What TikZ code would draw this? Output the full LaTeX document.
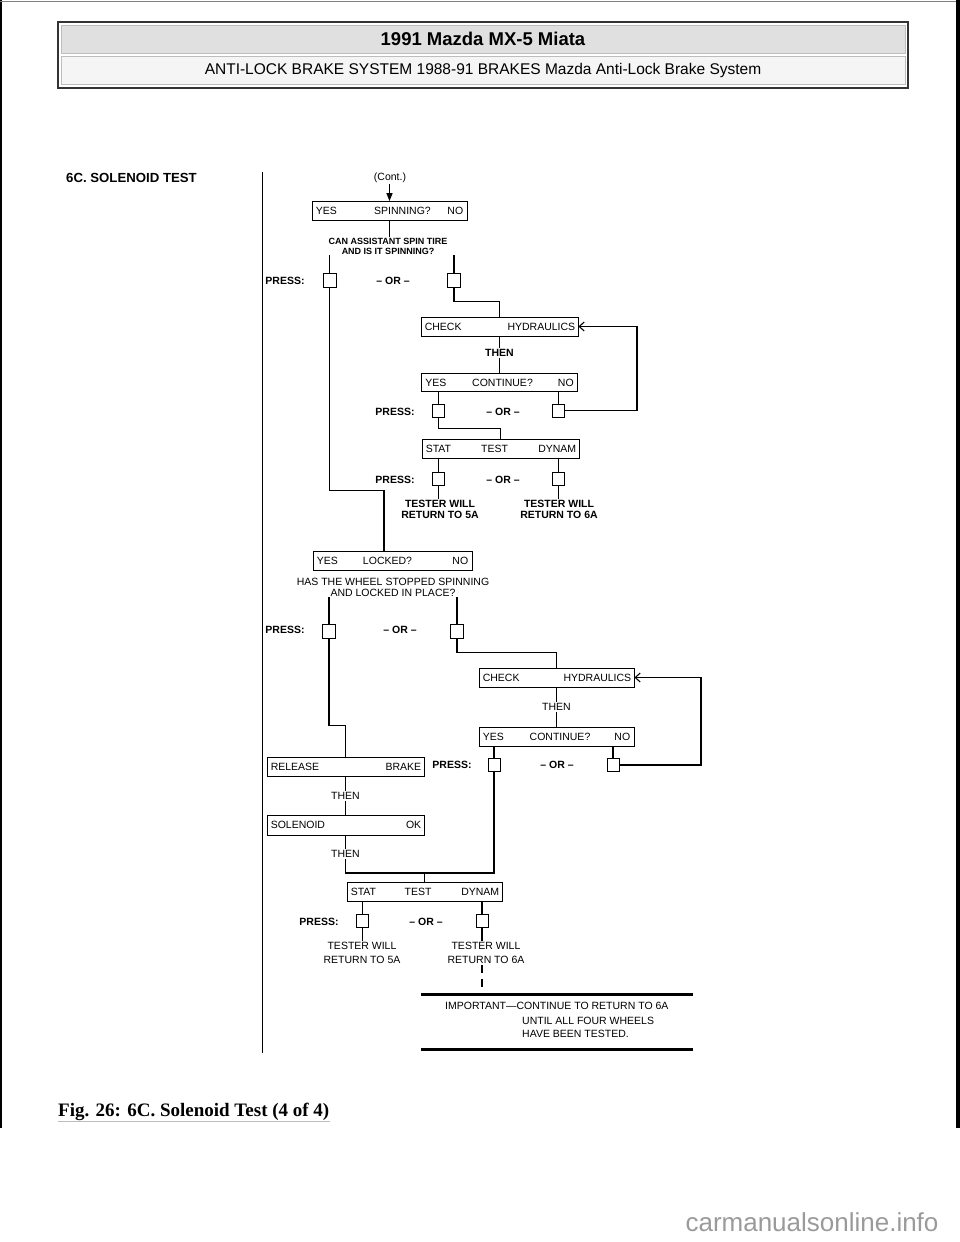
\documentclass[tikz,border=0pt]{standalone}
\usepackage{fontspec}
\setmainfont{Liberation Sans}
\newfontfamily\seriffont{Liberation Serif}
\usetikzlibrary{arrows.meta}

\definecolor{hdrgrey}{HTML}{E0E0E0}
\definecolor{subgrey}{HTML}{F5F5F5}
\definecolor{rimgrey}{HTML}{BDBDBD}
\definecolor{markgrey}{HTML}{9A9A9A}

\tikzset{
  qbox/.style={draw, line width=0.8pt, minimum height=19pt, inner sep=0pt},
  btn/.style={draw, line width=0.8pt, minimum width=12pt, minimum height=13pt, inner sep=0pt},
  lbl/.style={font=\fontsize{10.5}{11}\selectfont, inner sep=1pt},
  blbl/.style={font=\bfseries\fontsize{10.5}{11}\selectfont, inner sep=1pt},
  conn/.style={line width=1.1pt},
  back/.style={conn, -{Straight Barb[length=5pt,width=9pt,line width=1.1pt]}},
}

\begin{document}
\begin{tikzpicture}[x=1pt,y=-1pt]
  \useasboundingbox (0,0) rectangle (960,1242);

  % page frame
  \draw[line width=1.5pt] (1,0) -- (1,1128);
  \draw[line width=0.8pt, gray] (0,1) -- (960,1);
  \draw[line width=4pt] (958,0) -- (958,1128);

  % header
  \draw[line width=1.5pt, black!80] (58,22) rectangle (908,88);
  \draw[fill=hdrgrey, draw=rimgrey] (61,25) rectangle (905,53);
  \draw[fill=subgrey, draw=rimgrey] (61,56) rectangle (905,84);
  \node[font=\bfseries\fontsize{18.5}{20}\selectfont] (hdr) at (483,39) {1991 Mazda MX-5 Miata};
  \node[font=\fontsize{15.5}{17}\selectfont] (subhdr) at (483,70) {ANTI-LOCK BRAKE SYSTEM 1988-91 BRAKES Mazda Anti-Lock Brake System};

  % title and left rule
  \node[font=\bfseries\fontsize{13.2}{15}\selectfont, anchor=west, inner sep=0pt] (title) at (66,178) {6C. SOLENOID TEST};
  \draw[line width=0.8pt] (262,172) -- (262,1053);

  % spinning test
  \node[lbl] (cont) at (390,178) {(Cont.)};
  \node[qbox, minimum width=155pt] (spin) at (389.5,211) {};
  \node[lbl, anchor=west] (spinY) at ([xshift=3pt]spin.west) {YES};
  \node[lbl] (spinQ) at ([xshift=13pt]spin.center) {SPINNING?};
  \node[lbl, anchor=east] (spinN) at ([xshift=-3pt]spin.east) {NO};
  \draw[line width=1.4pt, -{Triangle[length=8pt,width=6pt]}] (cont.south -| spin.north) -- (spin.north);
  \node[font=\bfseries\fontsize{9}{10}\selectfont, align=center, inner sep=1pt] (q1) at (388,246) {CAN ASSISTANT SPIN TIRE\\AND IS IT SPINNING?};
  \draw[conn] (spin.south) -- (spin.south |- q1.north);

  \node[blbl] (press1) at (285,281) {PRESS:};
  \node[btn, minimum width=13pt, minimum height=14pt] (b1) at (329.5,280) {};
  \node[blbl] (or1) at (393,281) {-- OR --};
  \node[btn, minimum width=13pt, minimum height=14pt] (b2) at (454,280) {};
  \draw[conn] (b1.north |- q1.south) -- (b1.north);
  \draw[conn] (b2.north |- q1.south) -- (b2.north);

  % first hydraulics loop
  \node[qbox, minimum width=157pt] (chk1) at (499.5,326.5) {};
  \node[lbl, anchor=west] (chk1L) at ([xshift=3pt]chk1.west) {CHECK};
  \node[lbl, anchor=east] (chk1R) at ([xshift=-2pt]chk1.east) {HYDRAULICS};
  \draw[conn] (b2.south) -- ++(0,14) -| (chk1.north);
  \node[blbl] (then1) at (499.5,353) {THEN};
  \draw[conn] (chk1.south) -- (chk1.south |- then1.north);

  \node[qbox, minimum width=156pt, minimum height=18pt] (cont1) at (499.5,382.5) {};
  \node[lbl, anchor=west] (cont1Y) at ([xshift=3pt]cont1.west) {YES};
  \node[lbl] (cont1Q) at ([xshift=3pt]cont1.center) {CONTINUE?};
  \node[lbl, anchor=east] (cont1N) at ([xshift=-3pt]cont1.east) {NO};
  \draw[conn] (then1.south) -- (then1.south |- cont1.north);

  \node[blbl] (press2) at (395,412) {PRESS:};
  \node[btn] (b3) at (438.5,410.5) {};
  \node[blbl] (or2) at (503,412) {-- OR --};
  \node[btn] (b4) at (558.5,410.5) {};
  \draw[conn] (b3.north |- cont1.south) -- (b3.north);
  \draw[conn] (b4.north |- cont1.south) -- (b4.north);
  \coordinate (fb1) at (637,326.5);
  \draw[back] (b4.east) -| (fb1) -- (chk1.east);

  \node[qbox, minimum width=157pt] (stat1) at (500.5,448.5) {};
  \node[lbl, anchor=west] (stat1L) at ([xshift=3pt]stat1.west) {STAT};
  \node[lbl] (stat1M) at ([xshift=-6pt]stat1.center) {TEST};
  \node[lbl, anchor=east] (stat1R) at ([xshift=-2pt]stat1.east) {DYNAM};
  \draw[conn] (b3.south) -- ++(0,11) -| (stat1.north);

  \node[blbl] (press3) at (395,480) {PRESS:};
  \node[btn] (b5) at (438.5,478.5) {};
  \node[blbl] (or3) at (503,480) {-- OR --};
  \node[btn] (b6) at (558.5,478.5) {};
  \draw[conn] (b5.north |- stat1.south) -- (b5.north);
  \draw[conn] (b6.north |- stat1.south) -- (b6.north);
  \node[blbl, align=center] (r5a1) at (440,509) {TESTER WILL\\RETURN TO 5A};
  \node[blbl, align=center] (r6a1) at (559,509) {TESTER WILL\\RETURN TO 6A};
  \draw[conn] (b5.south) -- (b5.south |- r5a1.north);
  \draw[conn] (b6.south) -- (b6.south |- r6a1.north);

  % locked test
  \node[qbox, minimum width=159pt] (lock) at (392.5,560.5) {};
  \node[lbl, anchor=west] (lockY) at ([xshift=3pt]lock.west) {YES};
  \node[lbl] (lockQ) at ([xshift=-5pt]lock.center) {LOCKED?};
  \node[lbl, anchor=east] (lockN) at ([xshift=-3pt]lock.east) {NO};
  \draw[conn] (b1.south) -- ++(0,203) -| ([xshift=-8.5pt]lock.north);
  \node[lbl, align=center] (q2) at (393,587) {HAS THE WHEEL STOPPED SPINNING\\AND LOCKED IN PLACE?};

  \node[blbl] (press4) at (285,630) {PRESS:};
  \node[btn, minimum width=13pt, minimum height=14pt] (b7) at (329,631.5) {};
  \node[blbl] (or4) at (400,630) {-- OR --};
  \node[btn, minimum width=13pt, minimum height=14pt] (b8) at (457,631.5) {};
  \draw[conn] (b7.north |- q2.south) -- (b7.north);
  \draw[conn] (b8.north |- q2.south) -- (b8.north);

  % second hydraulics loop
  \node[qbox, minimum width=155pt] (chk2) at (556.5,677.5) {};
  \node[lbl, anchor=west] (chk2L) at ([xshift=3pt]chk2.west) {CHECK};
  \node[lbl, anchor=east] (chk2R) at ([xshift=-2pt]chk2.east) {HYDRAULICS};
  \draw[conn] (b8.south) -- ++(0,14) -| (chk2.north);
  \node[lbl] (then2) at (556.5,707) {THEN};
  \draw[conn] (chk2.south) -- (chk2.south |- then2.north);

  \node[qbox, minimum width=155pt] (cont2) at (556.5,736.5) {};
  \node[lbl, anchor=west] (cont2Y) at ([xshift=3pt]cont2.west) {YES};
  \node[lbl] (cont2Q) at ([xshift=3.5pt]cont2.center) {CONTINUE?};
  \node[lbl, anchor=east] (cont2N) at ([xshift=-3pt]cont2.east) {NO};
  \draw[conn] (then2.south) -- (then2.south |- cont2.north);

  \node[blbl] (press5) at (452,765) {PRESS:};
  \node[btn] (b9) at (494,765) {};
  \node[blbl] (or5) at (557,765) {-- OR --};
  \node[btn] (b10) at (613,765) {};
  \draw[conn] (b9.north |- cont2.south) -- (b9.north);
  \draw[conn] (b10.north |- cont2.south) -- (b10.north);
  \coordinate (fb2) at (701,677.5);
  \draw[back] (b10.east) -| (fb2) -- (chk2.east);

  % release brake and solenoid ok
  \node[qbox, minimum width=157pt] (rel) at (345.5,766.5) {};
  \node[lbl, anchor=west] (relL) at ([xshift=3pt]rel.west) {RELEASE};
  \node[lbl, anchor=east] (relR) at ([xshift=-2pt]rel.east) {BRAKE};
  \draw[conn] (b7.south) -- ++(0,87) -| (rel.north);
  \node[lbl] (then3) at (345.5,796) {THEN};
  \draw[conn] (rel.south) -- (rel.south |- then3.north);

  \node[qbox, minimum width=157pt, minimum height=20pt] (sol) at (345.5,825) {};
  \node[lbl, anchor=west] (solL) at ([xshift=3pt]sol.west) {SOLENOID};
  \node[lbl, anchor=east] (solR) at ([xshift=-2pt]sol.east) {OK};
  \draw[conn] (then3.south) -- (then3.south |- sol.north);
  \node[lbl] (then4) at (345.5,854) {THEN};
  \draw[conn] (sol.south) -- (sol.south |- then4.north);

  \node[qbox, minimum width=155pt] (stat2) at (424.5,891.5) {};
  \node[lbl, anchor=west] (stat2L) at ([xshift=3pt]stat2.west) {STAT};
  \node[lbl] (stat2M) at ([xshift=-6.5pt]stat2.center) {TEST};
  \node[lbl, anchor=east] (stat2R) at ([xshift=-2pt]stat2.east) {DYNAM};
  \coordinate (j2) at (424.5,873);
  \draw[conn] (then4.south) |- (j2) -- (stat2.north);
  \draw[conn] (b9.south) |- (j2);

  \node[blbl] (press6) at (319,922) {PRESS:};
  \node[btn] (b11) at (362.5,920.5) {};
  \node[blbl] (or6) at (426,922) {-- OR --};
  \node[btn] (b12) at (482,920.5) {};
  \draw[conn] (b11.north |- stat2.south) -- (b11.north);
  \draw[conn] (b12.north |- stat2.south) -- (b12.north);
  \node[lbl, align=center, font=\fontsize{10.5}{14}\selectfont] (r5a2) at (362,953) {TESTER WILL\\RETURN TO 5A};
  \node[lbl, align=center, font=\fontsize{10.5}{14}\selectfont] (r6a2) at (486,953) {TESTER WILL\\RETURN TO 6A};
  \draw[conn] (b11.south) -- (b11.south |- r5a2.north);
  \draw[conn] (b12.south) -- (b12.south |- r6a2.north);

  % important note
  \coordinate (impTL) at (421,994);
  \coordinate (impTR) at (693,994);
  \coordinate (impBL) at (421,1049);
  \coordinate (impBR) at (693,1049);
  \draw[line width=3pt] (impTL) -- (impTR);
  \draw[line width=3pt] (impBL) -- (impBR);
  \draw[conn, dash pattern=on 8pt off 6pt] (b12.south |- r6a2.south) -- (b12.south |- impTL);
  \node[lbl, anchor=west] (imp1) at (444,1006) {IMPORTANT---CONTINUE TO RETURN TO 6A};
  \node[lbl, anchor=west] (imp2) at (521,1021) {UNTIL ALL FOUR WHEELS};
  \node[lbl, anchor=west] (imp3) at (521,1034) {HAVE BEEN TESTED.};

  % caption and mark
  \node[font=\seriffont\bfseries\fontsize{19}{21}\selectfont, anchor=west, inner sep=0pt] (cap) at (58,1112) {Fig. 26: 6C. Solenoid Test (4 of 4)};
  \draw[line width=0.6pt, rimgrey] (cap.south west) -- (cap.south east);
  \node[font=\fontsize{26}{28}\selectfont, text=markgrey] (mark) at (812,1222) {carmanualsonline.info};
\end{tikzpicture}
\end{document}
